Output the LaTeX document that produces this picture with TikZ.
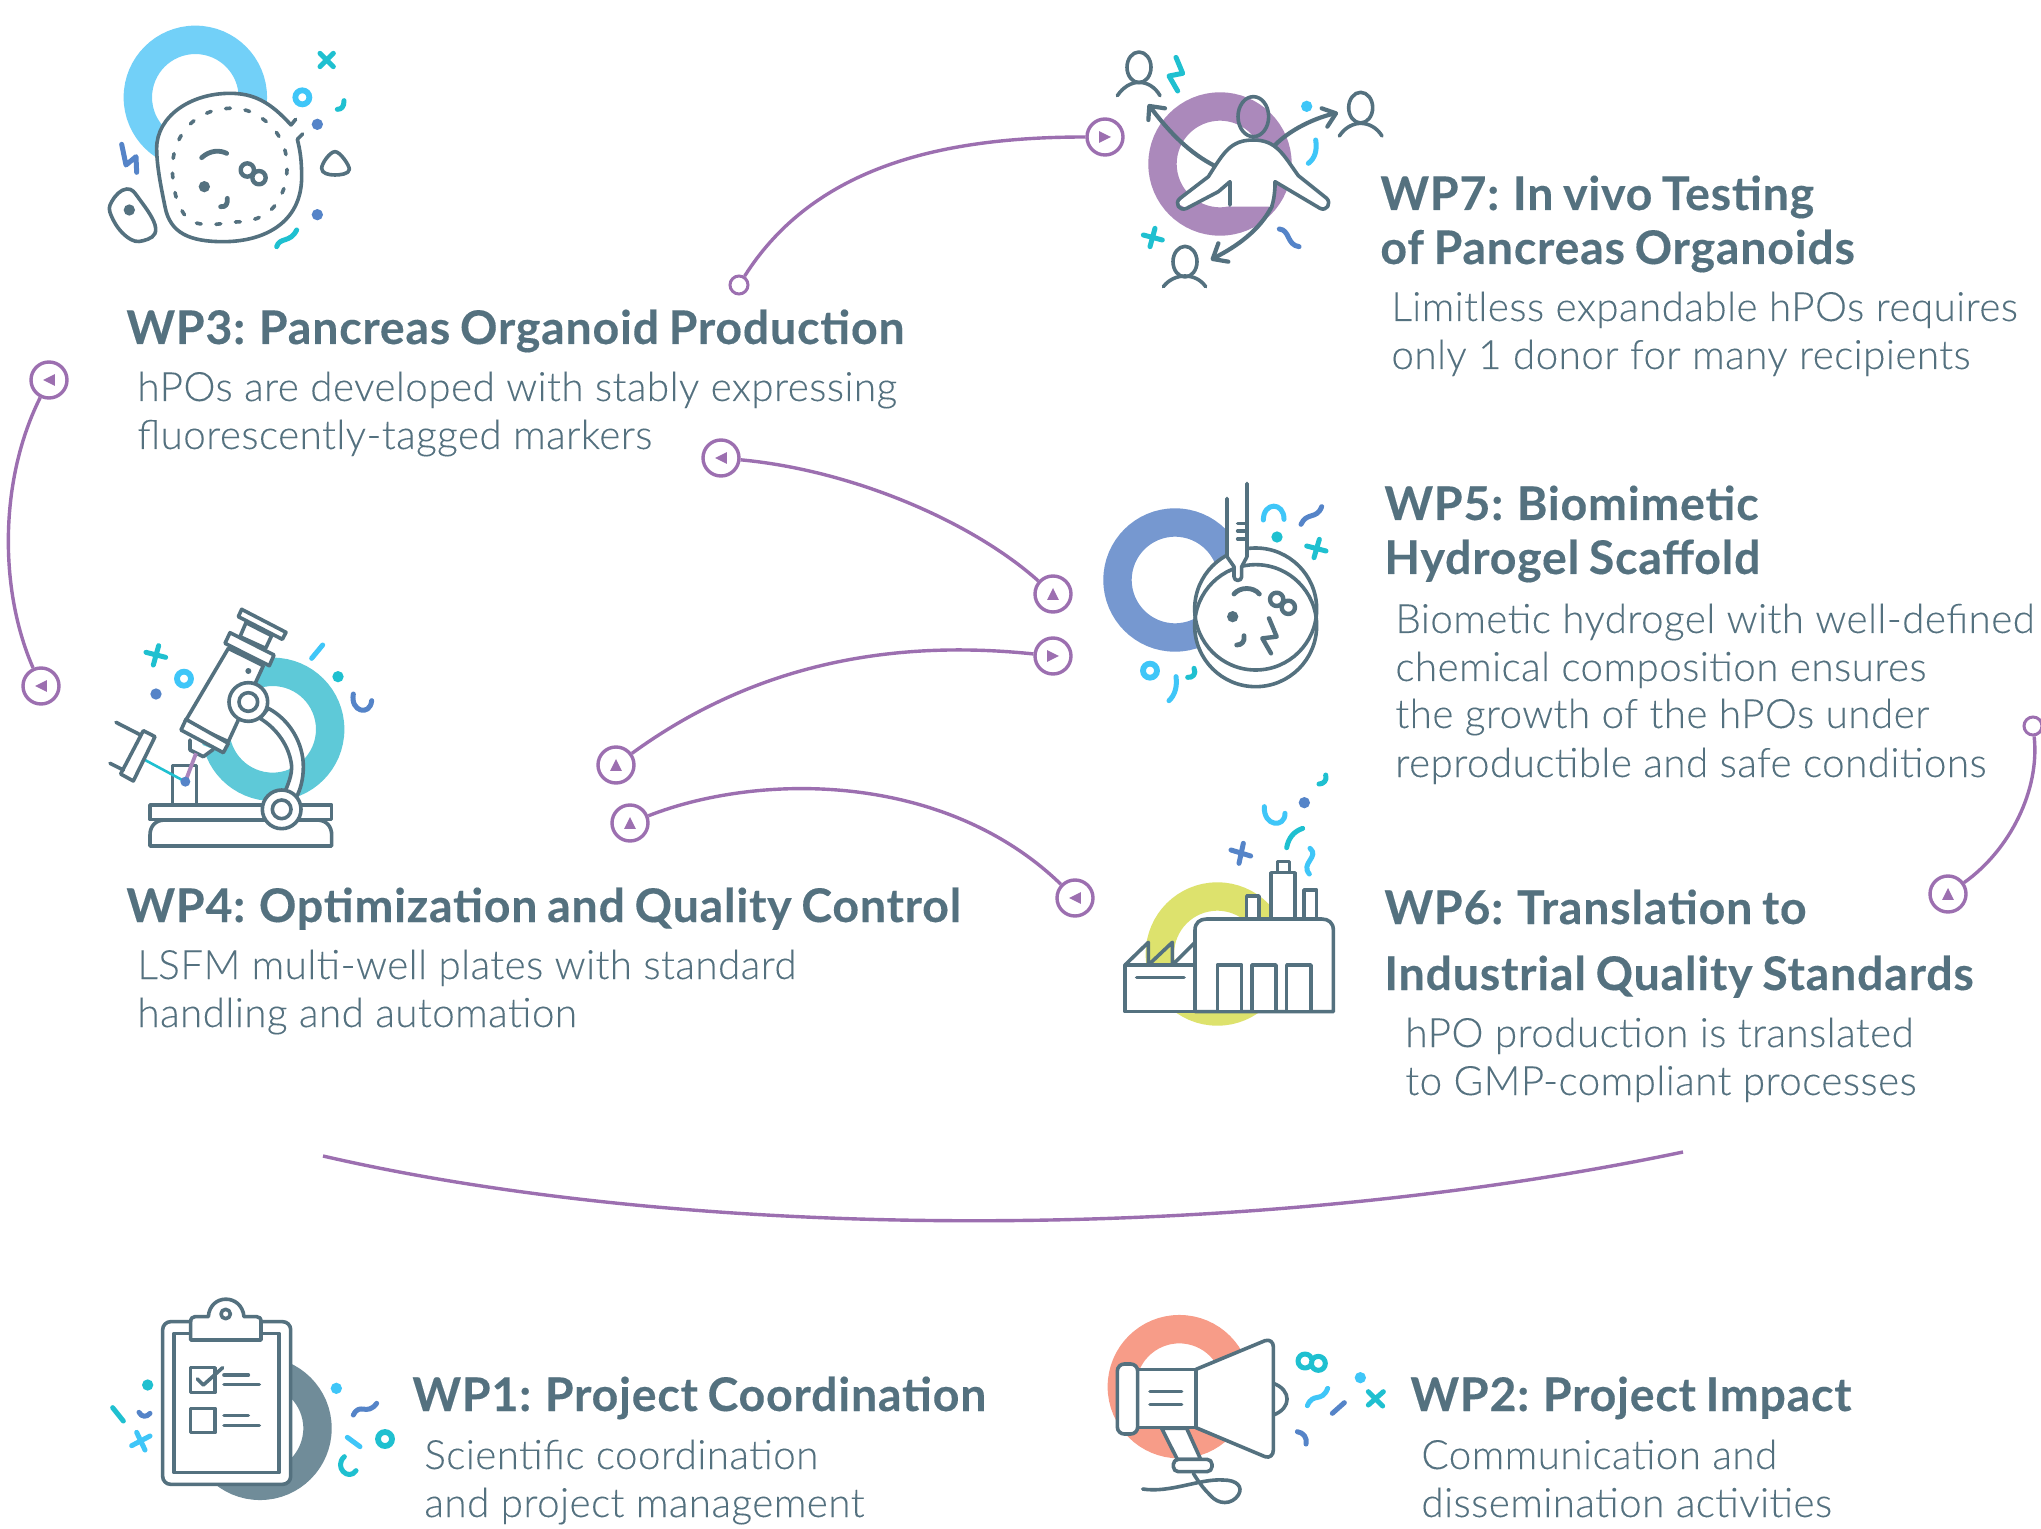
\documentclass[tikz,border=0pt]{standalone}
\usepackage{fontspec}
\setmainfont{Lato}
\newfontfamily\bodyf{Lato Light}[LetterSpace=1.1,FakeBold=0.12]
\newfontfamily\headf{Lato}[UprightFont=* Bold,WordSpace=0.8,LetterSpace=1.8,FakeBold=0.25]
\usetikzlibrary{calc}
\definecolor{ink}{HTML}{54717F}
\definecolor{purp}{HTML}{9C6FB0}
\definecolor{ltb}{HTML}{3FC6F8}
\definecolor{tl}{HTML}{1FC0D0}
\definecolor{blu}{HTML}{5584C8}
\definecolor{rA}{HTML}{72D0F8}
\definecolor{rB}{HTML}{AB89BB}
\definecolor{rC}{HTML}{7698D0}
\definecolor{rD}{HTML}{5EC9D8}
\definecolor{rE}{HTML}{DDE26D}
\definecolor{rF}{HTML}{708C99}
\definecolor{rG}{HTML}{F79C88}
\tikzset{
  head/.style={anchor=base west,inner sep=0,text=ink,font=\headf\fontsize{23.2}{28}\selectfont},
  body/.style={anchor=base west,inner sep=0,text=ink,font=\bodyf\fontsize{20.2}{24}\selectfont},
  port/.style={circle,draw=purp,fill=white,line width=1.7pt,minimum size=18pt,inner sep=0},
  openport/.style={circle,draw=purp,fill=white,line width=1.5pt,minimum size=9pt,inner sep=0},
  link/.style={draw=purp,line width=1.7pt},
  zm/.style 2 args={shift={(#1,#2)},x=0.16667pt,y=-0.16667pt},
  ic/.style={draw=ink,line width=1.8pt,line cap=round,line join=round},
  wf/.style={ic,fill=white},
  dec/.style={draw=#1,line width=2.5pt,line cap=round,line join=round},
}
\newcommand{\ringbg}[3]{\draw[#3,line width=14.2pt] (#1,#2) circle[radius=172.5];}
\newcommand{\tinyring}[3]{\draw[#3,line width=2.9pt] (#1,#2) circle[radius=21];}
\newcommand{\spot}[3]{\fill[#3] (#1,#2) circle[radius=17];}
\newcommand{\port}[4]{\node[port] (#1) at (#2,#3) {};
  \fill[purp,shift={(#1.center)},rotate=#4] (-2.9pt,-2.9pt) -- (3pt,0pt) -- (-2.9pt,2.9pt) -- cycle;}
\begin{document}
\begin{tikzpicture}[x=0.5pt,y=-0.5pt]
\useasboundingbox[fill=white] (0,0) rectangle (2041,1529);

% ---------- WP3 icon
\begin{scope}[zm={90}{10}]
\ringbg{316}{262}{rA}
\draw[wf] (603,345) .. controls (540,275) and (490,250) .. (420,250) .. controls (300,250) and (200,320) .. (200,415) .. controls (200,470) and (215,540) .. (225,590) .. controls (240,670) and (300,695) .. (400,695) .. controls (520,695) and (635,640) .. (635,500) .. controls (635,450) and (630,420) .. (622,388);
\draw[ic] (603,345) -- (617,328) (622,388) -- (638,372);
\draw[ic,dash pattern=on 2.4pt off 7.4pt] plot[smooth cycle,tension=.7] coordinates {(404,296)(465,300)(520,328)(563,373)(587,430)(590,492)(575,552)(540,602)(486,630)(424,637)(362,643)(302,632)(266,582)(251,522)(248,460)(262,400)(295,348)(345,312)};
\draw[ic,line width=2.4pt] (335,443) .. controls (360,420) and (390,420) .. (410,430);
\spot{343}{530}{ink}
\draw[ic,line width=2.4pt] (392,590) .. controls (408,592) and (413,582) .. (412,565);
\draw[ic,line width=2.2pt] (472,480) circle[radius=20] (507,503) circle[radius=20];
\spot{682}{343}{blu}\spot{682}{614}{blu}
\tinyring{637}{262}{ltb}
\draw[dec=tl] (690,130) -- (730,170) (730,130) -- (690,170);
\draw[dec=tl] (742,298) .. controls (755,298) and (762,290) .. (762,272);
\draw[ic] (735,425) .. controls (750,425) and (778,465) .. (778,478) .. controls (778,492) and (750,495) .. (735,495) .. controls (715,495) and (695,490) .. (695,475) .. controls (695,460) and (720,425) .. (735,425) -- cycle;
\draw[ic] plot[smooth cycle,tension=.75] coordinates {(110,537)(150,570)(197,655)(160,692)(110,680)(65,620)(65,575)};
\spot{118}{600}{ink}
\draw[dec=blu] (95,403) -- (108,465) -- (138,440) -- (140,487);
\draw[dec=tl] (560,710) .. controls (570,680) and (600,700) .. (620,660);
\end{scope}

% ---------- WP7 icon
\begin{scope}[zm={1090}{30}]
\ringbg{390}{402}{rB}
\draw[ic,line width=2.1pt] (375,408) .. controls (300,370) and (240,310) .. (180,230);
\draw[ic,line width=2.1pt] (175,270) -- (178,228) -- (225,235);
\draw[ic,line width=2.1pt] (555,345) .. controls (600,300) and (670,265) .. (735,250);
\draw[ic,line width=2.1pt] (695,235) -- (738,250) -- (712,290);
\draw[ic,line width=2.1pt] (545,530) .. controls (510,600) and (440,650) .. (370,685);
\draw[ic,line width=2.1pt] (385,640) -- (368,687) -- (415,695);
\fill[white] (420,455) -- (385,485) -- (290,535) -- (262,520) -- (355,440) .. controls (400,370) and (420,330) .. (490,330) .. controls (560,330) and (580,375) .. (625,437) -- (710,505) -- (690,535) -- (555,455) -- (545,530) -- (420,530) -- cycle;
\draw[ic] (420,525) -- (420,455) -- (385,485) -- (290,535) .. controls (268,545) and (252,520) .. (270,505) -- (355,440) .. controls (400,370) and (420,330) .. (490,330) .. controls (560,330) and (580,375) .. (625,437) -- (710,505) .. controls (725,520) and (710,545) .. (690,535) -- (555,455) -- (555,470) .. controls (553,500) and (550,515) .. (545,530);
\draw[ic] (490,260) ellipse[x radius=46,y radius=60];
\draw[ic] (147,112) ellipse[x radius=36,y radius=46];
\draw[ic] (82,197) .. controls (100,170) and (125,157) .. (147,157) .. controls (170,157) and (195,170) .. (210,197);
\draw[ic] (812,233) ellipse[x radius=36,y radius=46];
\draw[ic] (748,318) .. controls (765,292) and (790,280) .. (812,280) .. controls (835,280) and (860,292) .. (876,318);
\draw[ic] (285,695) ellipse[x radius=36,y radius=46];
\draw[ic] (220,770) .. controls (237,748) and (262,738) .. (285,738) .. controls (308,738) and (332,748) .. (347,770);
\draw[dec=tl] (258,82) -- (278,130) -- (237,138) -- (263,183);
\spot{650}{229}{ltb}
\draw[dec=ltb] (677,330) .. controls (682,360) and (675,385) .. (655,400);
\draw[dec=blu] (568,597) .. controls (600,600) and (590,645) .. (627,650);
\draw[dec=tl] (160,615) -- (217,630) (195,595) -- (180,650);
\end{scope}

% ---------- WP5 icon
\begin{scope}[zm={1090}{470}]
\ringbg{255}{330}{rC}
\fill[white] (497,467) circle[radius=183] (497,417) circle[radius=183];
\draw[ic] (497,467) circle[radius=183];
\draw[ic] (497,417) circle[radius=183];
\fill[white] (411,85) -- (411,260) -- (432,290) -- (432,332) -- (455,332) -- (455,290) -- (471,260) -- (471,40) -- cycle;
\draw[ic] (411,85) -- (411,260) -- (432,290) -- (432,320) .. controls (432,335) and (455,335) .. (455,320) -- (455,290) -- (471,260) -- (471,40);
\draw[ic] (443,160) -- (471,160) (443,183) -- (471,183) (443,207) -- (471,207);
\draw[ic,line width=2.4pt] (432,372) .. controls (450,350) and (490,350) .. (508,372);
\draw[ic,line width=2.2pt] (560,388) circle[radius=20] (595,412) circle[radius=20];
\spot{428}{440}{ink}
\draw[ic,line width=2.4pt] (440,525) .. controls (455,525) and (465,515) .. (462,497);
\draw[ic,line width=2.2pt] (537,445) -- (560,500) -- (517,505) -- (543,550);
\draw[dec=ltb] (520,150) .. controls (520,95) and (582,95) .. (582,148);
\spot{561}{201}{tl}
\draw[dec=blu] (633,163) .. controls (650,125) and (680,150) .. (695,110);
\draw[dec=tl] (650,228) -- (708,243) (688,208) -- (672,263);
\tinyring{180}{602}{ltb}
\draw[dec=ltb] (258,620) .. controls (262,650) and (255,675) .. (237,692);
\draw[dec=tl] (293,622) .. controls (308,624) and (320,612) .. (312,595);
\end{scope}

% ---------- WP4 icon
\begin{scope}[zm={100}{600}]
\ringbg{518}{388}{rD}
\draw[wf] (505,325) .. controls (570,360) and (610,430) .. (610,500) .. controls (610,540) and (600,570) .. (590,590) -- (555,575) .. controls (570,540) and (575,520) .. (575,500) .. controls (570,440) and (530,385) .. (480,355) -- cycle;
\draw[wf] (425,28) -- (558,97) -- (547,118) -- (415,50) -- cycle;
\draw[wf] (438,68) -- (420,110) -- (497,145) -- (515,107) -- cycle;
\draw[wf] (385,145) -- (255,365) -- (385,425) -- (490,197) -- cycle;
\draw[wf] (390,98) -- (522,165) -- (508,197) -- (375,130) -- cycle;
\draw[wf] (270,420) -- (270,450) -- (310,470) -- (340,448);
\draw[wf] (258,358) -- (385,430) -- (370,458) -- (243,390) -- cycle;
\fill[ink] (445,213) circle[radius=9];
\draw[wf] (445,306) circle[radius=58];
\draw[wf] (445,306) circle[radius=28];
\draw[wf] (218,615) -- (218,497) -- (290,497) -- (290,615);
\draw[wf] (150,738) -- (150,705) .. controls (150,680) and (165,660) .. (195,660) -- (650,660) .. controls (680,660) and (695,680) .. (695,705) -- (695,738) -- cycle;
\draw[wf] (150,615) rectangle (695,658);
\draw[draw=purp!85!white,line width=1.9pt] (288,460) -- (256,545);
\draw[draw=tl,line width=1.3pt] (135,480) -- (256,545);
\fill[blu] (256,545) circle[radius=15];
\draw[wf] (130,392) -- (165,410) -- (100,543) -- (62,522) -- cycle;
\draw[ic] (48,367) -- (122,405) (30,490) -- (70,510);
\draw[wf] (545,628) circle[radius=58];
\draw[wf] (545,628) circle[radius=28];
\draw[dec=tl] (138,157) -- (197,172) (176,137) -- (160,195);
\tinyring{252}{236}{ltb}
\spot{168}{282}{blu}
\draw[dec=ltb] (668,135) -- (635,175);
\spot{714}{230}{tl}
\draw[dec=blu] (760,282) .. controls (750,335) and (810,350) .. (815,302);
\end{scope}

% ---------- WP6 icon
\begin{scope}[zm={1110}{760}]
\ringbg{322}{582}{rE}
\draw[ic] (45,615) -- (115,547) -- (115,615) (115,615) -- (187,547) -- (187,615) (187,615) -- (255,547);
\draw[wf] (45,615) rectangle (255,755);
\draw[ic] (80,652) -- (222,652);
\draw[wf] (410,475) -- (410,408) -- (447,408) -- (447,475);
\draw[wf] (503,338) -- (503,305) -- (538,305) -- (538,338);
\draw[wf] (483,475) -- (483,338) -- (555,338) -- (555,475);
\draw[wf] (582,475) -- (582,390) -- (620,390) -- (620,475);
\draw[wf] (255,755) -- (255,510) .. controls (255,488) and (270,477) .. (290,477) -- (635,477) .. controls (655,477) and (670,488) .. (670,510) -- (670,755) -- cycle;
\draw[wf] (322,755) rectangle (395,615);
\draw[wf] (426,755) rectangle (498,615);
\draw[wf] (530,755) rectangle (603,615);
\draw[dec=blu] (363,270) -- (422,288) (400,250) -- (387,310);
\draw[dec=ltb] (463,140) .. controls (460,200) and (525,205) .. (525,160);
\spot{583}{128}{blu}
\draw[dec=tl] (627,72) .. controls (640,72) and (652,62) .. (647,45);
\draw[dec=tl] (530,263) .. controls (535,235) and (550,215) .. (578,205);
\draw[dec=ltb] (600,265) .. controls (630,290) and (570,310) .. (598,342);
\end{scope}

% ---------- WP1 icon
\begin{scope}[zm={100}{1280}]
\ringbg{480}{445}{rF}
\draw[wf,rounded corners=4pt] (188,125) rectangle (572,613);
\draw[ic] (222,160) rectangle (537,578);
\draw[wf] (272,180) -- (272,125) .. controls (272,115) and (278,110) .. (285,110) -- (325,110) .. controls (330,40) and (425,40) .. (432,110) -- (470,110) .. controls (478,110) and (483,115) .. (483,125) -- (483,180) -- cycle;
\draw[ic] (377,102) circle[radius=14];
\draw[ic] (272,263) rectangle (345,337);
\draw[ic] (292,297) -- (310,315) -- (368,263);
\draw[ic] (372,285) -- (445,285) (372,314) -- (478,314);
\draw[ic] (272,385) rectangle (345,458);
\draw[ic] (372,407) -- (445,407) (372,436) -- (478,436);
\spot{143}{315}{tl}
\draw[dec=tl] (38,383) -- (70,423);
\draw[dec=blu] (117,397) .. controls (125,412) and (140,412) .. (150,400);
\draw[dec=ltb] (95,497) -- (150,468) (110,457) -- (135,510);
\spot{709}{325}{ltb}
\draw[dec=blu] (760,405) .. controls (780,365) and (800,410) .. (830,370);
\draw[dec=ltb] (742,472) -- (780,500);
\tinyring{855}{477}{tl}
\draw[dec=tl] (733,530) .. controls (700,560) and (745,605) .. (768,572);
\end{scope}

% ---------- WP2 icon
\begin{scope}[zm={1090}{1300}]
\ringbg{268}{260}{rG}
\draw[wf] (215,385) -- (262,478) -- (332,478) -- (290,385) -- cycle;
\draw[wf] (143,208) rectangle (318,383);
\draw[wf,rounded corners=3.5pt] (82,192) rectangle (143,402);
\draw[ic] (180,275) -- (275,275) (180,313) -- (275,313);
\draw[wf] (550,250) .. controls (605,270) and (605,325) .. (550,345);
\draw[wf] (318,208) -- (525,122) .. controls (540,117) and (550,127) .. (550,140) -- (550,450) .. controls (550,465) and (540,475) .. (525,470) -- (318,383) -- cycle;
\draw[wf,rounded corners=2.5pt] (250,478) rectangle (366,515);
\draw[ic] (158,567) .. controls (240,580) and (330,535) .. (400,540) .. controls (440,540) and (460,560) .. (445,585) .. controls (425,615) and (385,615) .. (360,585) .. controls (340,565) and (325,545) .. (310,520);
\draw[dec=tl] (645,183) circle[radius=21] (685,190) circle[radius=21];
\spot{811}{233}{ltb}
\draw[dec=tl] (835,315) -- (880,275) (835,275) -- (878,318);
\draw[dec=ltb] (652,317) .. controls (670,275) and (695,310) .. (713,265);
\draw[dec=blu] (727,340) -- (763,308);
\draw[dec=blu] (622,395) .. controls (640,398) and (652,412) .. (648,432);
\end{scope}

% ---------- connectors
\node[openport] (a1) at (739,285) {};
\port{a2}{1105}{137}{0}
\port{b1}{49}{380}{180}
\port{b2}{41}{686}{180}
\port{c1}{721}{458}{180}
\port{c2}{1053}{594}{90}
\port{d1}{616}{765}{90}
\port{d2}{1053}{656}{0}
\port{e1}{630}{823}{90}
\port{e2}{1075}{898}{180}
\node[openport] (f1) at (2033,726) {};
\port{f2}{1948}{894}{90}
\coordinate (g1) at (323,1156);
\coordinate (g2) at (1683,1152);
\draw[link] (a1) .. controls (815,165) and (945,137) .. (a2);
\draw[link] (b1) .. controls (-1,480) and (-1,590) .. (b2);
\draw[link] (c1) .. controls (850,470) and (970,520) .. (c2);
\draw[link] (d1) .. controls (760,660) and (900,640) .. (d2);
\draw[link] (e1) .. controls (760,772) and (945,772) .. (e2);
\draw[link] (f1) .. controls (2040,790) and (2010,850) .. (f2);
\draw[link] (g1) .. controls (700,1243) and (1250,1243) .. (g2);

% ---------- texts
\node[head] (t3) at (126,344) {WP3: Pancreas Organoid Production};
\node[body] (t3a) at (137,401) {hPOs are developed with stably expressing};
\node[body] (t3b) at (137,449) {fluorescently-tagged markers};
\node[head] (t7) at (1380,210) {WP7: In vivo Testing};
\node[head] (t7b) at (1380,264) {of Pancreas Organoids};
\node[body] (t7c) at (1391,321) {Limitless expandable hPOs requires};
\node[body] (t7d) at (1391,369) {only 1 donor for many recipients};
\node[head] (t5) at (1384,520) {WP5: Biomimetic};
\node[head] (t5b) at (1384,574) {Hydrogel Scaffold};
\node[body] (t5c) at (1395,633) {Biometic hydrogel with well-defined};
\node[body] (t5d) at (1395,681) {chemical composition ensures};
\node[body] (t5e) at (1395,728) {the growth of the hPOs under};
\node[body] (t5f) at (1395,777) {reproductible and safe conditions};
\node[head] (t4) at (126,922) {WP4: Optimization and Quality Control};
\node[body] (t4a) at (137,979) {LSFM multi-well plates with standard};
\node[body] (t4b) at (137,1027) {handling and automation};
\node[head] (t6) at (1384,924) {WP6: Translation to};
\node[head] (t6b) at (1384,990) {Industrial Quality Standards};
\node[body] (t6c) at (1405,1047) {hPO production is translated};
\node[body] (t6d) at (1405,1095) {to GMP-compliant processes};
\node[head] (t1) at (412,1411) {WP1: Project Coordination};
\node[body] (t1a) at (424,1469) {Scientific coordination};
\node[body] (t1b) at (424,1517) {and project management};
\node[head] (t2) at (1410,1411) {WP2: Project Impact};
\node[body] (t2a) at (1421,1469) {Communication and};
\node[body] (t2b) at (1421,1517) {dissemination activities};
\end{tikzpicture}
\end{document}
